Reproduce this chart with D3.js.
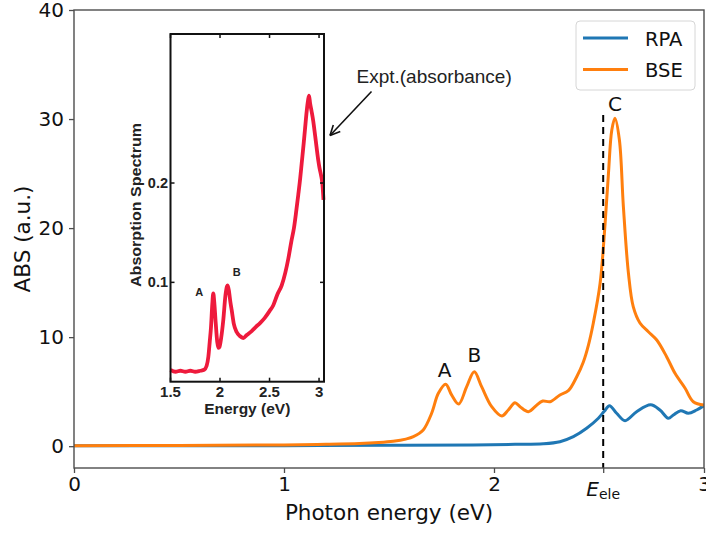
<!DOCTYPE html>
<html>
<head>
<meta charset="utf-8">
<script src="https://cdn.jsdelivr.net/npm/d3@7"></script>
<style>
  body { margin: 0; background: #fff; }
  svg { display: block; }
</style>
</head>
<body>
<svg id="chart" width="706" height="533"></svg>
<script>
// ---- Computed spectra (photon energy in eV, absorbance in a.u.) ----
const rpaEnergy = [0, 0.5, 1.0, 1.5, 1.9, 2.1, 2.235, 2.314, 2.378, 2.441, 2.497, 2.525, 2.55,
  2.584, 2.624, 2.679, 2.746, 2.79, 2.83, 2.854, 2.889, 2.925, 2.965, 3.0];
const rpaAbs = [0.05, 0.05, 0.05, 0.08, 0.12, 0.17, 0.22, 0.41, 0.87, 1.64, 2.56, 3.2, 3.72,
  3.02, 2.34, 3.16, 3.8, 3.32, 2.56, 2.86, 3.26, 3.02, 3.32, 3.72];

const bseEnergy = [0, 0.5, 1.0, 1.2, 1.36, 1.45, 1.52, 1.58, 1.616, 1.663, 1.703, 1.735, 1.77,
  1.798, 1.832, 1.87, 1.906, 1.941, 1.989, 2.037, 2.068, 2.1, 2.124, 2.164, 2.195, 2.232,
  2.267, 2.314, 2.354, 2.394, 2.425, 2.45, 2.473, 2.505, 2.529, 2.545, 2.561, 2.576, 2.597,
  2.616, 2.64, 2.663, 2.695, 2.735, 2.775, 2.822, 2.862, 2.91, 2.949, 3.0];
const bseAbs = [0.05, 0.07, 0.12, 0.17, 0.24, 0.33, 0.45, 0.65, 0.87, 1.49, 3.02, 4.85, 5.68,
  4.7, 3.87, 5.46, 6.83, 5.46, 3.62, 2.77, 3.32, 3.99, 3.62, 3.16, 3.62, 4.14,
  4.08, 4.7, 5.09, 6.37, 7.7, 9.3, 11.3, 14.9, 20.4, 25.0, 29.0, 30.07, 28.1,
  22.0, 15.9, 12.8, 11.3, 10.5, 9.74, 8.21, 6.68, 5.31, 4.08, 3.78];

const seriesNames = ["RPA", "BSE"];
const seriesColors = ["#1f77b4", "#ff7f0e"];

const xTicks = [0, 1, 2, 3];
const yTicks = [0, 10, 20, 30, 40];
const eEle = 2.52;          // electronic gap marker
const peakLabels = ["A", "B", "C"];
const peakEnergy = [1.77, 1.906, 2.576];
const peakAbs = [5.68, 6.83, 30.07];

// ---- Measured absorbance (inset) ----
const exptEnergy = [1.5, 1.55, 1.6, 1.65, 1.7, 1.75, 1.8, 1.84, 1.865, 1.882, 1.896, 1.909,
  1.922, 1.932, 1.942, 1.956, 1.972, 1.985, 1.995, 2.01, 2.033, 2.055, 2.07, 2.078, 2.092,
  2.105, 2.118, 2.14, 2.168, 2.2, 2.235, 2.27, 2.32, 2.36, 2.404, 2.45, 2.5, 2.538, 2.58,
  2.623, 2.66, 2.69, 2.72, 2.747, 2.77, 2.79, 2.81, 2.825, 2.845, 2.858, 2.875, 2.89, 2.899,
  2.91, 2.925, 2.942, 2.96, 2.975, 2.992, 3.005, 3.02, 3.033, 3.045];
const exptAbs = [0.012, 0.01, 0.011, 0.01, 0.011, 0.01, 0.011, 0.012, 0.016, 0.025, 0.04, 0.055,
  0.078, 0.089, 0.08, 0.06, 0.04, 0.034, 0.035, 0.043, 0.062, 0.087, 0.096, 0.097, 0.09,
  0.08, 0.072, 0.058, 0.05, 0.046, 0.044, 0.047, 0.051, 0.055, 0.059, 0.064, 0.071, 0.077, 0.088,
  0.097, 0.11, 0.124, 0.141, 0.155, 0.172, 0.188, 0.205, 0.22, 0.24, 0.254, 0.272, 0.284, 0.288,
  0.28, 0.272, 0.262, 0.248, 0.236, 0.223, 0.215, 0.208, 0.2, 0.183];
const insetXTicks = [1.5, 2, 2.5, 3];
const insetYTicks = [0.1, 0.2];
const insetLabels = ["A", "B"];

const svg = d3.select("#chart");
const MAIN_FONT = "DejaVu Sans, sans-serif";
const INSET_FONT = "Liberation Sans, Arial, sans-serif";

// ---- Main axes ----
const x = d3.scaleLinear().domain([0, 3]).range([74, 704]);
const y = d3.scaleLinear().domain([-2, 40]).range([468, 10]);

svg.append("defs").append("clipPath").attr("id", "plotArea")
  .append("rect").attr("x", x(0)).attr("y", y(40))
  .attr("width", x(3) - x(0)).attr("height", y(-2) - y(40));

const line = d3.line().x(d => x(d[0])).y(d => y(d[1])).curve(d3.curveCatmullRom.alpha(0.5));

const curves = [
  d3.zip(rpaEnergy, rpaAbs),
  d3.zip(bseEnergy, bseAbs)
];
const plot = svg.append("g").attr("clip-path", "url(#plotArea)");
curves.forEach((pts, i) => {
  plot.append("path").datum(pts).attr("d", line)
    .attr("fill", "none").attr("stroke", seriesColors[i])
    .attr("stroke-width", 3).attr("stroke-linejoin", "round");
});

// dashed marker at the electronic gap
svg.append("line")
  .attr("x1", x(eEle)).attr("x2", x(eEle))
  .attr("y1", 115).attr("y2", y(-2))
  .attr("stroke", "#000").attr("stroke-width", 2)
  .attr("stroke-dasharray", "7,5");

// frame
svg.append("rect").attr("x", x(0)).attr("y", y(40))
  .attr("width", x(3) - x(0)).attr("height", y(-2) - y(40))
  .attr("fill", "none").attr("stroke", "#4d4d4d").attr("stroke-width", 1.4);

// x axis
const gx = svg.append("g").attr("transform", `translate(0,${y(-2)})`)
  .call(d3.axisBottom(x).tickValues(xTicks.concat([eEle])).tickSize(5).tickFormat(d => d === eEle ? "" : d3.format("d")(d)));
gx.select(".domain").remove();
gx.selectAll(".tick line").attr("stroke", "#4d4d4d").attr("stroke-width", 1.3);
gx.selectAll(".tick text").attr("font-family", MAIN_FONT).attr("font-size", 20)
  .attr("fill", "#111").attr("dy", null).attr("y", 23);

const eLab = svg.append("text").attr("x", x(eEle)).attr("y", 496)
  .attr("text-anchor", "middle").attr("font-family", MAIN_FONT).attr("fill", "#111");
eLab.append("tspan").attr("font-size", 20).attr("font-style", "italic").text("E");
eLab.append("tspan").attr("font-size", 14).attr("dy", 3).text("ele");

// y axis
const gy = svg.append("g").attr("transform", `translate(${x(0)},0)`)
  .call(d3.axisLeft(y).tickValues(yTicks).tickSize(5).tickPadding(5));
gy.select(".domain").remove();
gy.selectAll(".tick line").attr("stroke", "#4d4d4d").attr("stroke-width", 1.3);
gy.selectAll(".tick text").attr("font-family", MAIN_FONT).attr("font-size", 20).attr("fill", "#111");

svg.append("text").attr("x", (x(0) + x(3)) / 2).attr("y", 520)
  .attr("text-anchor", "middle").attr("font-family", MAIN_FONT).attr("font-size", 21.5)
  .attr("fill", "#111").text("Photon energy (eV)");
svg.append("text").attr("transform", `translate(30,${(y(-2) + y(40)) / 2}) rotate(-90)`)
  .attr("text-anchor", "middle").attr("font-family", MAIN_FONT).attr("font-size", 21.5)
  .attr("fill", "#111").text("ABS (a.u.)");

// peak labels
const peakOffset = [7, 10, 7];
peakLabels.forEach((lab, i) => {
  svg.append("text").attr("x", x(peakEnergy[i]) - (i === 0 ? 1 : 0))
    .attr("y", y(peakAbs[i]) - peakOffset[i])
    .attr("text-anchor", "middle").attr("font-family", MAIN_FONT).attr("font-size", 20)
    .attr("fill", "#111").text(lab);
});

// legend
const lg = svg.append("g");
lg.append("rect").attr("x", 576).attr("y", 21).attr("width", 119).attr("height", 69)
  .attr("rx", 4).attr("fill", "#fff").attr("fill-opacity", 0.8)
  .attr("stroke", "#d6d6d6").attr("stroke-width", 1);
seriesNames.forEach((name, i) => {
  const ly = 38 + i * 31.5;
  lg.append("line").attr("x1", 583).attr("x2", 628).attr("y1", ly).attr("y2", ly)
    .attr("stroke", seriesColors[i]).attr("stroke-width", 3);
  lg.append("text").attr("x", 645).attr("y", ly + 7.5)
    .attr("font-family", MAIN_FONT).attr("font-size", 19.5).attr("fill", "#111").text(name);
});

// ---- Inset: measured absorption spectrum ----
const ix = d3.scaleLinear().domain([1.5, 3.05]).range([170.5, 324]);
const iy = d3.scaleLinear().domain([0, 0.35]).range([381.7, 34]);

svg.append("rect").attr("x", ix(1.5)).attr("y", iy(0.35))
  .attr("width", ix(3.05) - ix(1.5)).attr("height", iy(0) - iy(0.35))
  .attr("fill", "#fff");

const iline = d3.line().x(d => ix(d[0])).y(d => iy(d[1])).curve(d3.curveMonotoneX);
svg.append("path").datum(d3.zip(exptEnergy, exptAbs)).attr("d", iline)
  .attr("fill", "none").attr("stroke", "#ee1a3c").attr("stroke-width", 3.8)
  .attr("stroke-linejoin", "round");

// inset frame with inward ticks on all sides
const ig = svg.append("g");
ig.append("rect").attr("x", ix(1.5)).attr("y", iy(0.35))
  .attr("width", ix(3.05) - ix(1.5)).attr("height", iy(0) - iy(0.35))
  .attr("fill", "none").attr("stroke", "#111").attr("stroke-width", 2);
insetXTicks.forEach(t => {
  ig.append("line").attr("x1", ix(t)).attr("x2", ix(t)).attr("y1", iy(0)).attr("y2", iy(0) - 4)
    .attr("stroke", "#111").attr("stroke-width", 1.5);
  ig.append("line").attr("x1", ix(t)).attr("x2", ix(t)).attr("y1", iy(0.35)).attr("y2", iy(0.35) + 4)
    .attr("stroke", "#111").attr("stroke-width", 1.5);
  ig.append("text").attr("x", ix(t)).attr("y", 397).attr("text-anchor", "middle")
    .attr("font-family", INSET_FONT).attr("font-weight", "bold").attr("font-size", 15)
    .attr("fill", "#222").text(t);
});
insetYTicks.forEach(t => {
  ig.append("line").attr("x1", ix(1.5)).attr("x2", ix(1.5) + 4).attr("y1", iy(t)).attr("y2", iy(t))
    .attr("stroke", "#111").attr("stroke-width", 1.5);
  ig.append("line").attr("x1", ix(3.05)).attr("x2", ix(3.05) - 4).attr("y1", iy(t)).attr("y2", iy(t))
    .attr("stroke", "#111").attr("stroke-width", 1.5);
  ig.append("text").attr("x", 168).attr("y", iy(t) + 5).attr("text-anchor", "end")
    .attr("font-family", INSET_FONT).attr("font-weight", "bold").attr("font-size", 14.5)
    .attr("fill", "#222").text(t);
});
ig.append("text").attr("x", (ix(1.5) + ix(3.05)) / 2).attr("y", 414).attr("text-anchor", "middle")
  .attr("font-family", INSET_FONT).attr("font-weight", "bold").attr("font-size", 15.5)
  .attr("fill", "#222").text("Energy (eV)");
ig.append("text").attr("transform", `translate(141,205) rotate(-90)`).attr("text-anchor", "middle")
  .attr("font-family", INSET_FONT).attr("font-weight", "bold").attr("font-size", 14)
  .attr("textLength", 164).attr("lengthAdjust", "spacingAndGlyphs")
  .attr("fill", "#222").text("Absorption Spectrum");

const insetLabelPos = [[1.932, 0.089], [2.078, 0.097]];
insetLabels.forEach((lab, i) => {
  ig.append("text").attr("x", ix(insetLabelPos[i][0]) - (i === 0 ? 14 : -9))
    .attr("y", iy(insetLabelPos[i][1]) + (i === 0 ? 3 : -9)).attr("text-anchor", "middle")
    .attr("font-family", INSET_FONT).attr("font-weight", "bold").attr("font-size", 11)
    .attr("fill", "#222").text(lab);
});

// annotation pointing at the inset
svg.append("text").attr("x", 356.5).attr("y", 83)
  .attr("font-family", INSET_FONT).attr("font-size", 19).attr("fill", "#222")
  .text("Expt.(absorbance)");
const ax0 = 371.5, ay0 = 91.5, ax1 = 330, ay1 = 135.5;
const ang = Math.atan2(ay1 - ay0, ax1 - ax0);
svg.append("line").attr("x1", ax0).attr("y1", ay0).attr("x2", ax1).attr("y2", ay1)
  .attr("stroke", "#111").attr("stroke-width", 1.6);
[-0.45, 0.45].forEach(a => {
  svg.append("line").attr("x1", ax1).attr("y1", ay1)
    .attr("x2", ax1 - 11 * Math.cos(ang + a)).attr("y2", ay1 - 11 * Math.sin(ang + a))
    .attr("stroke", "#111").attr("stroke-width", 1.6);
});
</script>
</body>
</html>
